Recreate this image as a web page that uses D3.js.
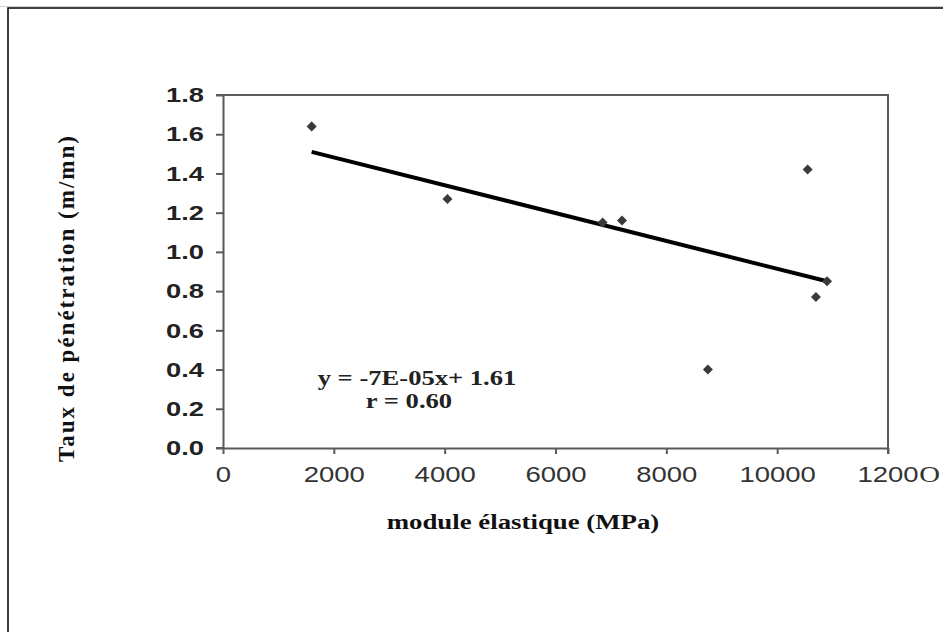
<!DOCTYPE html>
<html>
<head>
<meta charset="utf-8">
<script src="https://cdn.jsdelivr.net/npm/d3@7"></script>
<style>
  body { margin: 0; background: #fff; }
  svg { display: block; }
</style>
</head>
<body>
<svg id="chart" width="943" height="632"></svg>
<script>
// module élastique (MPa) vs taux de pénétration (m/mn)
const moduleX = [1600, 4050, 6850, 7200, 8750, 10550, 10700, 10900];
const tauxY = [1.64, 1.27, 1.15, 1.16, 0.40, 1.42, 0.77, 0.85];
// regression line endpoints
const trendX = [1600, 10900];
const trendY = [1.51, 0.85];
const xTicks = [0, 2000, 4000, 6000, 8000, 10000, 12000];
const yTicks = [0, 0.2, 0.4, 0.6, 0.8, 1.0, 1.2, 1.4, 1.6, 1.8];
const eqLines = ["y = -7E-05x+ 1.61", "r = 0.60"];

const svg = d3.select("#chart");
const width = 943, height = 632;
const margin = {top: 95, right: 55, bottom: 184, left: 223};
const axisColor = "#5a5a5a";
const stretch = 1.25; // the original picture is a bit wider than tall

// outer frame of the figure
svg.append("line").attr("x1", 0).attr("x2", width).attr("y1", 6.5).attr("y2", 6.5)
    .attr("stroke", "#cfcfcf").attr("stroke-width", 1);
svg.append("path")
    .attr("d", `M8,${height} V8 H${width}`)
    .attr("fill", "none").attr("stroke", "#000").attr("stroke-width", 1.5);

const xScale = d3.scaleLinear()
    .domain([0, 12000])
    .range([margin.left, width - margin.right]);

const yScale = d3.scaleLinear()
    .domain([0, 1.8])
    .range([height - margin.bottom, margin.top]);

const x0 = xScale(0), x1 = xScale(12000), y0 = yScale(0), y1 = yScale(1.8);

// top and right border of the plot area
svg.append("path")
    .attr("d", `M${x0 - 7},${y1} H${x1} V${y0 + 6}`)
    .attr("fill", "none").attr("stroke", axisColor).attr("stroke-width", 2);

const tickFont = "'Liberation Sans', Arial, sans-serif";
const serif = "'Liberation Serif', 'Times New Roman', serif";

const yAxis = d3.axisLeft(yScale).tickValues(yTicks).tickSize(7)
    .tickFormat(d3.format(".1f")).tickSizeOuter(0);
svg.append("g")
    .attr("transform", `translate(${x0},0)`)
    .call(yAxis)
    .call(g => g.select(".domain").attr("stroke", axisColor).attr("stroke-width", 2))
    .call(g => g.selectAll(".tick line").attr("stroke", axisColor).attr("stroke-width", 2))
    .call(g => g.selectAll(".tick text")
        .attr("x", -19 / 1.3)
        .attr("transform", "scale(1.3,1)")
        .style("font-family", tickFont).style("font-size", "21px")
        .style("font-weight", "bold").attr("fill", "#222"));

const xAxis = d3.axisBottom(xScale).tickValues(xTicks).tickSize(6)
    .tickFormat(d => d === 12000 ? "1200" : String(d)).tickSizeOuter(0);
svg.append("g")
    .attr("transform", `translate(0,${y0})`)
    .call(xAxis)
    .call(g => g.select(".domain").attr("stroke", axisColor).attr("stroke-width", 2))
    .call(g => g.selectAll(".tick line").attr("stroke", axisColor).attr("stroke-width", 2))
    .call(g => g.selectAll(".tick text")
        .attr("y", 18)
        .attr("transform", `scale(${stretch},1)`)
        .style("font-family", tickFont).style("font-size", "22px")
        .attr("fill", "#333"))
    .call(g => g.selectAll(".tick text").filter(d => d === 12000)
        .attr("text-anchor", "start").attr("x", -31 / stretch)
        .append("tspan")
        .style("font-family", serif)
        .style("font-size", "23px")
        .attr("dx", 0.5)
        .text("O"));

// left tick at 0 extends past the axis
svg.append("line").attr("x1", x0 - 7).attr("x2", x0).attr("y1", y0).attr("y2", y0)
    .attr("stroke", axisColor).attr("stroke-width", 2);

// trend line
const trend = trendX.map((x, i) => [x, trendY[i]]);
svg.append("path")
    .datum(trend)
    .attr("d", d3.line().x(d => xScale(d[0])).y(d => yScale(d[1])))
    .attr("fill", "none").attr("stroke", "#000").attr("stroke-width", 4);

// points
const points = moduleX.map((x, i) => ({x, y: tauxY[i]}));
svg.append("g").selectAll("path")
    .data(points)
    .join("path")
    .attr("transform", d => `translate(${xScale(d.x)},${yScale(d.y)})`)
    .attr("d", d3.symbol(d3.symbolDiamond2, 64))
    .attr("fill", "#3a3a3a");

// equation
const eq = svg.append("g")
    .style("font-family", serif).style("font-size", "20px").style("font-weight", "bold")
    .attr("fill", "#222")
    .attr("text-anchor", "middle");
eq.append("text")
    .attr("transform", `translate(417,385) scale(1.33,1)`)
    .text(eqLines[0]);
eq.append("text")
    .attr("transform", `translate(409,408) scale(1.33,1)`)
    .text(eqLines[1]);

// axis titles
svg.append("text")
    .attr("transform", `translate(523,529) scale(1.22,1)`)
    .attr("text-anchor", "middle")
    .style("font-family", serif).style("font-size", "22px").style("font-weight", "bold")
    .attr("fill", "#111")
    .text("module élastique (MPa)");

svg.append("text")
    .attr("transform", `translate(74,298) rotate(-90)`)
    .attr("text-anchor", "middle")
    .style("font-family", serif).style("font-size", "23px").style("font-weight", "bold")
    .style("letter-spacing", "2px")
    .attr("fill", "#111")
    .text("Taux de pénétration (m/mn)");
</script>
</body>
</html>
